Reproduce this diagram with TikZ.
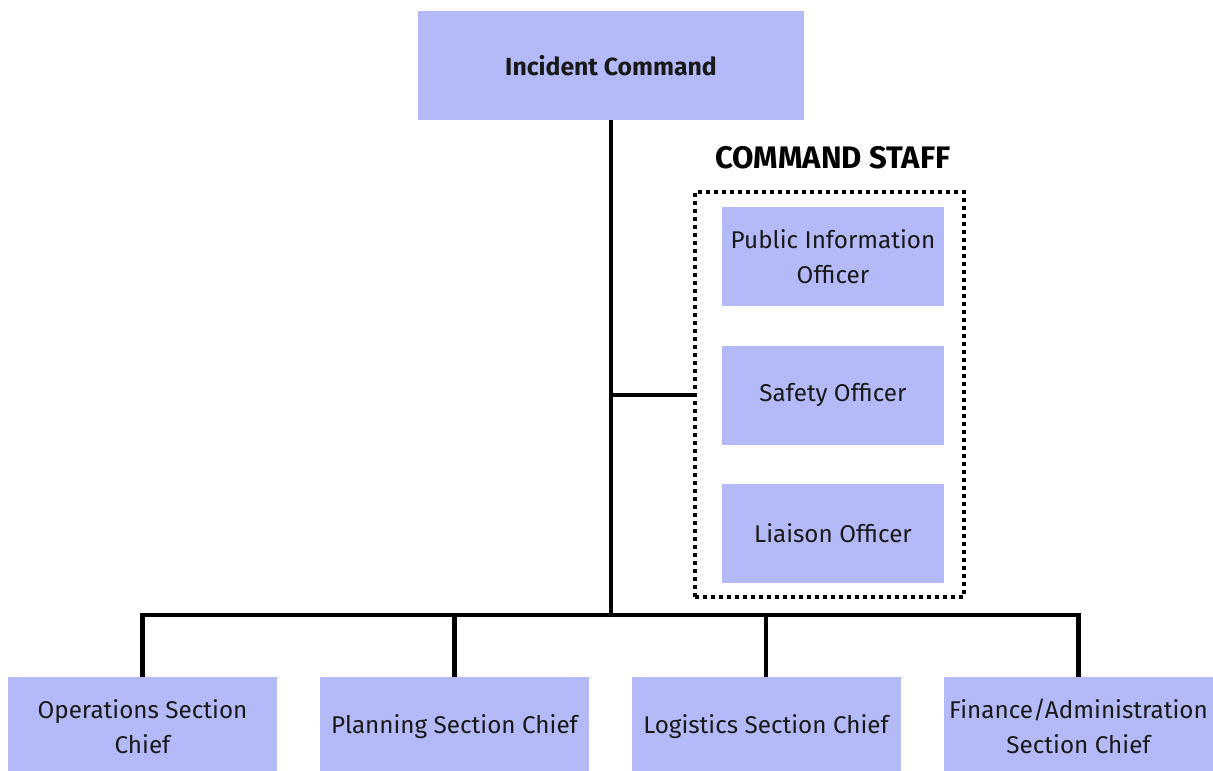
\documentclass[tikz,border=0pt]{standalone}
\usepackage{fontspec}
\setmainfont{Fira Sans}
\usetikzlibrary{positioning}
\definecolor{boxblue}{RGB}{180,185,247}
\begin{document}
\begin{tikzpicture}[
    x=0.2mm,y=-0.2mm,
    unit/.style={fill=boxblue,inner sep=0pt,align=center,text=black!90,
      font=\fontsize{13.8pt}{20pt}\selectfont},
    chief/.style={unit,minimum width=53.8mm,minimum height=19.8mm},
    officer/.style={unit,minimum width=44.4mm,minimum height=19.8mm},
    head/.style={unit,minimum width=77.2mm,minimum height=21.8mm,
      font=\fontsize{14.1pt}{17pt}\selectfont\bfseries},
    staffbox/.style={draw,line width=0.8mm,dash pattern=on 0.8mm off 0.8mm,
      minimum width=53.8mm,minimum height=81mm,inner sep=0pt},
    link/.style={draw,line width=0.9mm}
  ]
  \useasboundingbox (0,0) rectangle (1213,770);
  %% top of the chart
  \node[head] (ic) at (611,65.5) {Incident Command};
  %% command staff, dotted group on the right
  \node[staffbox] (staff) at (829.5,394.5) {};
  \node[font=\fontsize{17.7pt}{20pt}\selectfont\bfseries] (stafflbl) at (833,158) {COMMAND STAFF};
  \node[officer] (pio)  at (833,256.5) {Public Information\\Officer};
  \node[officer] (safe) at (833,395)   {Safety Officer};
  \node[officer] (lia)  at (833,533.5) {Liaison Officer};
  %% general staff along the bottom
  \node[chief] (ops)  at (142.5,726.5)  {Operations Section\\Chief};
  \node[chief] (plan) at (454.5,726.5)  {Planning Section Chief};
  \node[chief] (log)  at (766,726.5)    {Logistics Section Chief};
  \node[chief] (fin)  at (1078.5,726.5) {Finance/Administration\\Section Chief};
  %% connectors
  \coordinate (bus) at (611,615);
  \coordinate (tee) at (611,395);
  \draw[link] (ic) -- (bus);
  \draw[link] (tee) -- (staff.west |- tee);
  \draw[link] (ops.north) |- (bus) -| (fin.north);
  \foreach \c in {plan,log}
    \draw[link] (\c.north) -- (\c.north |- bus);
\end{tikzpicture}
\end{document}
